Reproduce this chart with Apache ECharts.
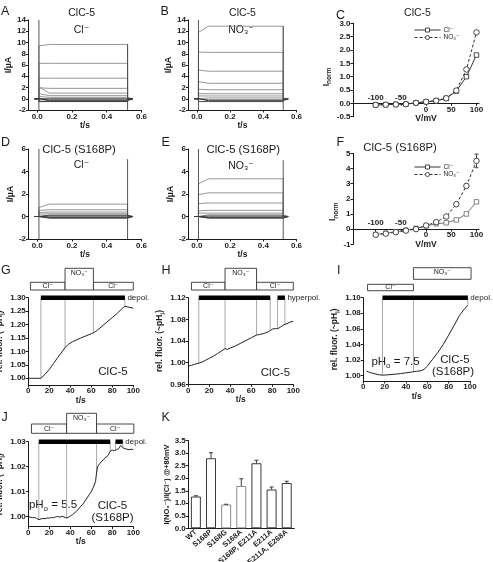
<!DOCTYPE html>
<html><head><meta charset="utf-8">
<script src="https://cdn.jsdelivr.net/npm/echarts@6/dist/echarts.min.js"></script>
<style>html,body{margin:0;padding:0;background:#fff}#c{width:493px;height:562px}</style>
</head><body><div id="c"></div>
<script>
// ================= DATA =================
// Voltage-clamp traces (I/µA): initial value after onset and steady value, one entry per trace
const pulseTimes = [-0.015, 0.01, 0.07, 0.52, 0.55];           // holding start, pulse on, settled, pulse off, end (s)
const tracesA_initial = [9.4, 6.3, 3.65, 1.95, 2.1, 0.9, 0.4, 0.05, -0.2, -0.35, -0.45, -0.5];
const tracesA_steady  = [9.65, 6.3, 3.65, 1.85, 1.0, 0.55, 0.25, 0.0, -0.2, -0.35, -0.45, -0.5];
const spikesA = [[0.01, -2, 14], [0.52, -2, 9.7]];             // t, low, high
const tracesB_initial = [11.8, 8.3, 5.1, 3.05, 1.7, 0.9, 0.5, 0.15, -0.2, -0.35, -0.5];
const tracesB_steady  = [12.9, 8.25, 4.9, 2.75, 1.6, 0.9, 0.5, 0.15, -0.2, -0.35, -0.5];
const spikesB = [[0.01, -2, 14], [0.52, -2, 12.9]];
const tracesD_initial = [0.8, 0.55, 0.35, 0.2, 0.1, 0.05, -0.05, -0.1, -0.15];
const tracesD_steady  = [1.1, 0.6, 0.4, 0.25, 0.12, 0.05, -0.05, -0.1, -0.15];
const spikesD = [[0.01, -2, 6], [0.52, -2, 5.1]];
const tracesE_initial = [2.9, 1.95, 1.15, 0.5, 0.3, 0.15, 0.05, -0.05, -0.1, -0.15];
const tracesE_steady  = [3.35, 2.1, 1.2, 0.55, 0.3, 0.15, 0.05, -0.05, -0.1, -0.15];
const spikesE = [[0.01, -2, 6], [0.52, -2, 5.0]];
const traceTicks = [0, 0.2, 0.4, 0.6];

// I-V curves (normalised current)
const voltages = [-100, -80, -60, -40, -20, 0, 20, 40, 60, 80, 100];
const C_Cl  = [-0.06, -0.05, -0.04, -0.03, 0.02, 0.06, 0.1, 0.19, 0.46, 1.0, 1.81];
const C_NO3 = [-0.06, -0.05, -0.04, -0.03, 0.02, 0.06, 0.1, 0.19, 0.48, 1.27, 2.66];
const F_Cl  = [-0.35, -0.27, -0.17, -0.07, 0.05, 0.22, 0.35, 0.42, 0.61, 1.0, 1.8];
const F_NO3 = [-0.37, -0.3, -0.2, -0.1, 0.0, 0.24, 0.46, 0.83, 1.64, 2.85, 4.5];
const F_NO3_err = [[80, 2.85, 0.12], [100, 4.5, 0.45]];        // V, mean, sem
const ivTicks = [-100, -50, 0, 50, 100];
const ivLabelsBelow = [0, 50, 100];
const ivLabelsAbove = [-100, -50];

// Fluorescence time courses [t (s), rel. fluor.]
const curveG = [[0,1.0],[12,1.0],[16,1.015],[20,1.033],[24,1.055],[28,1.077],[32,1.098],[35,1.114],[38,1.126],[42,1.136],[46,1.143],[50,1.15],[55,1.158],[60,1.166],[63,1.171],[66,1.18],[70,1.193],[75,1.21],[80,1.226],[85,1.243],[90,1.262],[92,1.268],[95,1.265],[100,1.261]];
const curveH = [[0,0.9935],[3,0.995],[6,0.997],[10,0.999],[13,1.001],[16,1.004],[20,1.008],[24,1.012],[28,1.017],[32,1.022],[35,1.026],[37,1.0245],[40,1.027],[45,1.031],[50,1.036],[55,1.041],[60,1.046],[65,1.051],[68,1.052],[72,1.054],[76,1.057],[78,1.059],[80,1.062],[83,1.063],[85,1.0625],[88,1.066],[91,1.07],[94,1.072],[97,1.075],[100,1.0765]];
const curveI = [[3,1.0058],[6,1.004],[10,1.0025],[14,1.0012],[18,1.0005],[22,1.0008],[26,1.0013],[30,1.0018],[35,1.0025],[40,1.0035],[45,1.0045],[50,1.0055],[54,1.0062],[57,1.008],[60,1.012],[65,1.021],[70,1.03],[75,1.04],[80,1.052],[85,1.064],[90,1.077],[95,1.086],[98,1.09]];
const curveJ = [[0,1.0],[2,0.9998],[4,0.9996],[6,0.9997],[8,0.9993],[10,0.9988],[12,0.9991],[14,0.9993],[16,0.9992],[18,0.9995],[20,0.9994],[22,0.9997],[24,0.9996],[26,0.9999],[28,1.0001],[30,0.9998],[32,1.0002],[34,0.9999],[36,0.9995],[38,0.9997],[40,1.0003],[42,1.0008],[44,1.0015],[46,1.0022],[48,1.0032],[50,1.0042],[52,1.005],[54,1.0063],[56,1.0075],[58,1.0088],[60,1.01],[62,1.0118],[64,1.014],[65,1.0175],[66,1.02],[67,1.0208],[68,1.0212],[70,1.0222],[72,1.023],[74,1.0238],[76,1.0245],[78,1.0262],[80,1.0266],[82,1.0264],[84,1.0268],[86,1.0272],[88,1.0285],[89,1.0283],[90,1.0276],[92,1.0272],[94,1.027],[96,1.0268],[98,1.027],[100,1.0268]];
// solution boxes [t0, t1, ion (0 = Cl-, 1 = NO3-)]
const ionNames = ['Cl⁻', 'NO₃⁻'];
const boxesG = [[2,35,0],[62,100,0],[35,62,1]];
const boxesH = [[3,35,0],[65,100,0],[35,65,1]];
const boxesI = [[4,47,0],[47,101,1]];
const boxesJ = [[3,36.5,0],[65,100.5,0],[36.5,65,1]];
// voltage pulse bars [t0, t1]
const barsG = [[12,92]];
const barsH = [[10,78],[85,92]];
const barsI = [[18,98]];
const barsJ = [[10,78],[83,90]];
// marker lines [t, value reached on the trace]
const marksG = [[12,1.0],[35,1.114],[62,1.17],[92,1.268]];
const marksH = [[10,0.999],[35,1.026],[65,1.051],[78,1.059],[85,1.0625],[92,1.071]];
const marksI = [[18,1.0005],[47,1.0047],[98,1.09]];
const marksJ = [[10,0.9988],[36.5,0.9995],[65,1.0175],[78,1.0262],[83,1.0266],[90,1.0276]];
const ticksG = [1.00,1.05,1.10,1.15,1.20,1.25,1.30];
const ticksI = [1.00,1.02,1.04,1.06,1.08,1.10];
const ticksJ = [1.00,1.01,1.02,1.03];

// Bar chart K
const mutants = ['WT','S168P','S168G','S168A','S168P, E211A','E211A','E211A, E268A'];
const ratioMean = [1.27, 2.8, 0.95, 1.69, 2.6, 1.55, 1.81];
const ratioSEM  = [0.03, 0.22, 0.01, 0.29, 0.12, 0.1, 0.07];

// ================= STYLE / LAYOUT =================
const FONT = "'Liberation Sans','DejaVu Sans',Arial,sans-serif";
const INK = '#1a1a1a';
function merge(a, b) {
  const out = Object.assign({}, a);
  for (const k in b) {
    const v = b[k];
    if (v && typeof v === 'object' && !Array.isArray(v) && typeof v !== 'function' && a[k] && typeof a[k] === 'object' && !Array.isArray(a[k])) out[k] = merge(a[k], v);
    else out[k] = v;
  }
  return out;
}
const axisBase = {
  type: 'value',
  axisLine: {show: true, onZero: false, lineStyle: {color: INK, width: 1}},
  axisTick: {show: true, inside: false, length: 2.5, lineStyle: {color: INK, width: 1}},
  minorTick: {show: false},
  splitLine: {show: false},
  axisLabel: {show: true, color: INK, fontFamily: FONT, fontSize: 8, fontWeight: 'bold', margin: 2.5, hideOverlap: false, showMinLabel: true, showMaxLabel: true},
  nameLocation: 'middle',
  nameTextStyle: {color: INK, fontFamily: FONT, fontSize: 8.5, fontWeight: 'bold'}
};
const hiddenAxis = {type: 'value', show: false, min: 0, max: 1, axisLine: {onZero: false}};
const subRich = {
  t: {fontFamily: FONT, fontSize: 8.5, fontWeight: 'bold', color: INK},
  s: {fontFamily: FONT, fontSize: 6.5, fontWeight: 'bold', color: INK, padding: [6, 0, 0, 0]}
};
const grids = [
  {left: 28.5, top: 20, width: 113, height: 90},     // 0 A
  {left: 188.5, top: 20, width: 108, height: 90},    // 1 B
  {left: 353, top: 23.3, width: 126, height: 93.4},  // 2 C (data)
  {left: 28.5, top: 149, width: 113, height: 90},    // 3 D
  {left: 188.5, top: 149, width: 108, height: 90},   // 4 E
  {left: 353, top: 153.3, width: 126, height: 91},   // 5 F (data)
  {left: 28.3, top: 297.7, width: 105, height: 87.3},// 6 G
  {left: 188.3, top: 297.7, width: 105, height: 86.6},// 7 H
  {left: 363.3, top: 297.7, width: 106.7, height: 83.3},// 8 I
  {left: 28.3, top: 441.7, width: 105, height: 85},  // 9 J
  {left: 188.3, top: 440.7, width: 106, height: 87.6},// 10 K
  {left: 353, top: 23.3, width: 126, height: 80},    // 11 C x-axis at I = 0
  {left: 353, top: 23.3, width: 126, height: 80},    // 12 C labels above axis
  {left: 353, top: 153.3, width: 126, height: 75.8}, // 13 F x-axis at I = 0
  {left: 353, top: 153.3, width: 126, height: 75.8}  // 14 F labels above axis
].map(g => Object.assign({show: false, containLabel: false, outerBoundsMode: 'none'}, g));

const xAxes = [], yAxes = [];
const f1 = v => v.toFixed(1), f2 = v => v.toFixed(2);
// trace panels
[0,1,3,4].forEach(i => {
  xAxes[i] = merge(axisBase, {gridIndex: i, min: -0.05, max: 0.6, name: 't/s', nameGap: 11,
    axisLabel: {customValues: traceTicks, formatter: f1}, axisTick: {customValues: traceTicks}});
});
yAxes[0] = merge(axisBase, {gridIndex: 0, min: -2, max: 14, interval: 2, name: 'I/µA', nameGap: 9, nameTextStyle: {fontSize: 9}});
yAxes[1] = merge(axisBase, {gridIndex: 1, min: -2, max: 14, interval: 2, name: 'I/µA', nameGap: 9, nameTextStyle: {fontSize: 9}});
yAxes[3] = merge(axisBase, {gridIndex: 3, min: -2, max: 6, interval: 2, name: 'I/µA', nameGap: 13, nameTextStyle: {fontSize: 9}});
yAxes[4] = merge(axisBase, {gridIndex: 4, min: -2, max: 6, interval: 2, name: 'I/µA', nameGap: 13, nameTextStyle: {fontSize: 9}});
// IV panels: data grid with hidden x axis, plus axis grids ending at I = 0
[[2, 11, 12], [5, 13, 14]].forEach(([d, a, b]) => {
  xAxes[d] = merge(axisBase, {gridIndex: d, min: -145, max: 105, show: false});
  xAxes[a] = merge(axisBase, {gridIndex: a, min: -145, max: 105, name: 'V/mV', nameGap: 10,
    nameTextStyle: {padding: [0, 0, 0, 20]}, axisTick: {customValues: ivTicks},
    axisLabel: {customValues: ivLabelsBelow, margin: 2}});
  xAxes[b] = merge(axisBase, {gridIndex: b, min: -145, max: 105,
    axisLine: {show: false}, axisTick: {show: false},
    axisLabel: {inside: true, customValues: ivLabelsAbove, margin: 2}});
  yAxes[a] = Object.assign({gridIndex: a}, hiddenAxis);
  yAxes[b] = Object.assign({gridIndex: b}, hiddenAxis);
});
yAxes[2] = merge(axisBase, {gridIndex: 2, min: -0.5, max: 3, interval: 0.5, name: '{t|I}{s|norm}', nameGap: 12,
  axisLabel: {formatter: f1}, nameTextStyle: {rich: subRich, padding: [0, 14, 0, 0]}});
yAxes[5] = merge(axisBase, {gridIndex: 5, min: -1, max: 5, interval: 1, name: '{t|I}{s|norm}', nameGap: 7,
  nameTextStyle: {rich: subRich, padding: [0, 26, 0, 0]}});
// fluorescence panels
const fluorName = '{t|rel. fluor. (~pH}{s|i}{t|)}';
[6,7,8,9].forEach(i => {
  xAxes[i] = merge(axisBase, {gridIndex: i, min: 0, max: 100, interval: 20, name: 't/s', nameGap: 8, axisLabel: {margin: 2}});
});
yAxes[6] = merge(axisBase, {gridIndex: 6, min: 0.975, max: 1.30, name: fluorName, nameGap: 16, nameTextStyle: {rich: subRich},
  axisLabel: {customValues: ticksG, formatter: f2}, axisTick: {customValues: ticksG}});
yAxes[7] = merge(axisBase, {gridIndex: 7, min: 0.96, max: 1.12, interval: 0.04, name: fluorName, nameGap: 16, nameTextStyle: {rich: subRich},
  axisLabel: {formatter: f2}});
yAxes[8] = merge(axisBase, {gridIndex: 8, min: 0.993, max: 1.10, name: fluorName, nameGap: 16, nameTextStyle: {rich: subRich},
  axisLabel: {customValues: ticksI, formatter: f2}, axisTick: {customValues: ticksI}});
yAxes[9] = merge(axisBase, {gridIndex: 9, min: 0.996, max: 1.03, name: fluorName, nameGap: 16, nameTextStyle: {rich: subRich},
  axisLabel: {customValues: ticksJ, formatter: f2}, axisTick: {customValues: ticksJ}});
// bar panel
xAxes[10] = merge(axisBase, {gridIndex: 10, type: 'category', data: mutants, boundaryGap: true,
  axisTick: {show: false}, axisLabel: {interval: 0, rotate: 40, fontSize: 7.5, margin: 3}});
yAxes[10] = merge(axisBase, {gridIndex: 10, min: 0, max: 3.5, interval: 0.5, name: 'I(NO₃⁻)/I(Cl⁻) @+80mV', nameGap: 17,
  nameTextStyle: {fontSize: 7.5}, axisLabel: {formatter: f1}});

// ================= SERIES =================
const series = [];
const lineBase = {type: 'line', symbol: 'none', showSymbol: false, silent: true, animation: false};
function addTraces(ax, init, steady, spikes) {
  init.forEach((s, k) => {
    const l = steady[k];
    const dark = l < 0.15;
    series.push(Object.assign({}, lineBase, {xAxisIndex: ax, yAxisIndex: ax, z: dark ? 3 : 2,
      lineStyle: {color: dark ? '#3a3a3a' : '#8a8a8a', width: 0.9},
      data: [[pulseTimes[0], 0], [pulseTimes[1], 0], [pulseTimes[1], s], [pulseTimes[2], l],
             [pulseTimes[3], l], [pulseTimes[3], 0], [pulseTimes[4], 0]]}));
  });
  spikes.forEach(sp => series.push(Object.assign({}, lineBase, {xAxisIndex: ax, yAxisIndex: ax, z: 4,
    lineStyle: {color: '#444', width: 0.9}, data: [[sp[0], sp[1]], [sp[0], sp[2]]]})));
}
addTraces(0, tracesA_initial, tracesA_steady, spikesA);
addTraces(1, tracesB_initial, tracesB_steady, spikesB);
addTraces(3, tracesD_initial, tracesD_steady, spikesD);
addTraces(4, tracesE_initial, tracesE_steady, spikesE);

function addIV(ax, cl, no3, clColor) {
  series.push({type: 'line', name: 'Cl⁻', xAxisIndex: ax, yAxisIndex: ax, z: 5, animation: false,
    symbol: 'rect', symbolSize: 4.5, showSymbol: true,
    lineStyle: {color: clColor, width: 1}, itemStyle: {color: '#fff', borderColor: clColor, borderWidth: 0.9},
    data: voltages.map((v, k) => [v, cl[k]])});
  series.push({type: 'line', name: 'NO₃⁻', xAxisIndex: ax, yAxisIndex: ax, z: 6, animation: false,
    symbol: 'circle', symbolSize: 5.5, showSymbol: true,
    lineStyle: {color: '#333', width: 1, type: [3, 2]}, itemStyle: {color: '#fff', borderColor: '#333', borderWidth: 0.9},
    data: voltages.map((v, k) => [v, no3[k]])});
}
addIV(2, C_Cl, C_NO3, '#333');
addIV(5, F_Cl, F_NO3, '#777');
series.push({type: 'custom', xAxisIndex: 5, yAxisIndex: 5, z: 4, silent: true, data: F_NO3_err,
  renderItem: (params, api) => {
    const v = api.value(0), m = api.value(1), e = api.value(2);
    const lo = api.coord([v, m - e]), hi = api.coord([v, m + e]);
    const st = {stroke: '#333', lineWidth: 0.9};
    return {type: 'group', children: [
      {type: 'line', shape: {x1: lo[0], y1: lo[1], x2: hi[0], y2: hi[1]}, style: st},
      {type: 'line', shape: {x1: hi[0] - 2, y1: hi[1], x2: hi[0] + 2, y2: hi[1]}, style: st},
      {type: 'line', shape: {x1: lo[0] - 2, y1: lo[1], x2: lo[0] + 2, y2: lo[1]}, style: st}]};
  }});

const boxLayouts = {
  std: {cl: [15.4, 7.7, 11.5], no3: [29.4, 7.7, 25]},
  J:   {cl: [17.7, 8.4, 13], no3: [28.4, 8.4, 23.4]},
  I:   {cl: [13.4, 7, 10.3], no3: [30, 18.4, 25.5]}
};
function addFluor(ax, curve, boxes, bars, marks, pulseLabel, lay, ymin) {
  const L = boxLayouts[lay];
  series.push({type: 'custom', xAxisIndex: ax, yAxisIndex: ax, z: 2, clip: false, silent: true, data: marks,
    renderItem: (params, api) => {
      const top = params.coordSys.y;
      const p = api.coord([api.value(0), api.value(1)]);
      return {type: 'line', shape: {x1: p[0], y1: top, x2: p[0], y2: p[1]}, style: {stroke: '#a0a0a0', lineWidth: 0.9}};
    }});
  series.push({type: 'custom', xAxisIndex: ax, yAxisIndex: ax, z: 3, clip: false, silent: true, data: bars,
    renderItem: (params, api) => {
      const top = params.coordSys.y;
      const x0 = api.coord([api.value(0), ymin])[0], x1 = api.coord([api.value(1), ymin])[0];
      const ch = [{type: 'rect', shape: {x: x0, y: top - 2.2, width: x1 - x0, height: 4.4}, style: {fill: '#000'}}];
      if (params.dataIndex === bars.length - 1) {
        ch.push({type: 'text', style: {text: pulseLabel, x: x1 + 2.5, y: top, align: 'left', verticalAlign: 'middle',
          fontFamily: FONT, fontSize: 8, fill: INK}});
      }
      return {type: 'group', children: ch};
    }});
  series.push({type: 'custom', xAxisIndex: ax, yAxisIndex: ax, z: 3, clip: false, silent: true, data: boxes,
    renderItem: (params, api) => {
      const top = params.coordSys.y;
      const x0 = api.coord([api.value(0), ymin])[0], x1 = api.coord([api.value(1), ymin])[0];
      const k = api.value(2);
      const g = k ? L.no3 : L.cl;
      return {type: 'group', children: [
        {type: 'rect', shape: {x: x0, y: top - g[0], width: x1 - x0, height: g[0] - g[1]},
          style: {fill: '#fff', stroke: '#333', lineWidth: 0.9}},
        {type: 'text', style: {text: ionNames[k], x: (x0 + x1) / 2, y: top - g[2], align: 'center', verticalAlign: 'middle',
          fontFamily: FONT, fontSize: 7, fill: INK}}]};
    }});
  series.push(Object.assign({}, lineBase, {xAxisIndex: ax, yAxisIndex: ax, z: 6,
    lineStyle: {color: '#222', width: 1}, data: curve}));
}
addFluor(6, curveG, boxesG, barsG, marksG, 'depol.', 'std', 0.975);
addFluor(7, curveH, boxesH, barsH, marksH, 'hyperpol.', 'std', 0.96);
addFluor(8, curveI, boxesI, barsI, marksI, 'depol.', 'I', 0.993);
addFluor(9, curveJ, boxesJ, barsJ, marksJ, 'depol.', 'J', 0.996);

const lightBars = ['S168G', 'S168A'];
series.push({type: 'bar', xAxisIndex: 10, yAxisIndex: 10, barWidth: 10, silent: true, animation: false, z: 3,
  data: ratioMean.map((v, k) => ({value: v, itemStyle: {color: '#fff', borderWidth: 1,
    borderColor: lightBars.indexOf(mutants[k]) >= 0 ? '#8a8a8a' : '#3a3a3a'}}))});
series.push({type: 'custom', xAxisIndex: 10, yAxisIndex: 10, z: 4, silent: true,
  data: ratioMean.map((v, k) => [k, v, v + ratioSEM[k]]),
  renderItem: (params, api) => {
    const a = api.coord([api.value(0), api.value(1)]), b = api.coord([api.value(0), api.value(2)]);
    const st = {stroke: '#3a3a3a', lineWidth: 1};
    return {type: 'group', children: [
      {type: 'line', shape: {x1: a[0], y1: a[1], x2: b[0], y2: b[1]}, style: st},
      {type: 'line', shape: {x1: b[0] - 2, y1: b[1], x2: b[0] + 2, y2: b[1]}, style: st}]};
  }});

// ================= TEXT =================
const texts = [];
function txt(s, x, y, size, align, rich) {
  texts.push({type: 'text', x: x, y: y, silent: true, style: {text: s, fontFamily: FONT, fontSize: size, fill: INK,
    align: align || 'center', verticalAlign: 'middle', rich: rich}});
}
[['A',1,11.7],['B',160.5,11.7],['C',336,16],['D',1,143],['E',161.5,143],['F',336.5,143],
 ['G',1,271],['H',161.5,271],['I',337,271],['J',1.5,418],['K',161.5,418]].forEach(l => txt(l[0], l[1], l[2], 12.5, 'left'));
txt('ClC-5', 81.7, 12.8, 10.5); txt('Cl⁻', 81.5, 29.7, 10.5);
txt('ClC-5', 242.5, 12.8, 10.5); txt('NO₃⁻', 241, 30, 10.5);
txt('ClC-5', 417.5, 12.8, 10.5);
txt('ClC-5 (S168P)', 79, 149.7, 11.3); txt('Cl⁻', 81.5, 165, 10.5);
txt('ClC-5 (S168P)', 243.3, 149.7, 11.3); txt('NO₃⁻', 241, 166, 10.5);
txt('ClC-5 (S168P)', 400, 148.3, 11.3);
txt('ClC-5', 113, 371.7, 11.5);
txt('ClC-5', 275.5, 373.3, 11.5);
const phRich = {n: {fontFamily: FONT, fontSize: 11.5, fill: INK, color: INK}, s: {fontFamily: FONT, fontSize: 8, color: INK, padding: [7, 0, 0, 0]}};
txt('{n|pH}{s|o}{n| = 7.5}', 395.5, 362.3, 11.5, 'center', phRich);
txt('ClC-5', 455, 360, 11.5); txt('(S168P)', 453, 371.7, 11.5);
txt('{n|pH}{s|o}{n| = 5.5}', 53, 505, 11.5, 'center', phRich);
txt('ClC-5', 112.5, 506, 11.5); txt('(S168P)', 112.5, 518.3, 11.5);

const legendBase = {orient: 'vertical', itemWidth: 26, itemHeight: 5, itemGap: 0.5, padding: 0,
  lineStyle: {width: 1}, itemStyle: {borderWidth: 0.9},
  textStyle: {fontFamily: FONT, fontSize: 6.5, color: INK, padding: [0, 0, 0, -2]}, selectedMode: false,
  data: ['Cl⁻', 'NO₃⁻']};
const legends = [Object.assign({left: 414, top: 26.5}, legendBase), Object.assign({left: 414, top: 163.5}, legendBase)];

const chart = echarts.init(document.getElementById('c'), null, {renderer: 'canvas'});
chart.setOption({
  animation: false, backgroundColor: '#fff', textStyle: {fontFamily: FONT},
  grid: grids, xAxis: xAxes, yAxis: yAxes, legend: legends, series: series,
  graphic: {elements: texts}
});
</script></body></html>
